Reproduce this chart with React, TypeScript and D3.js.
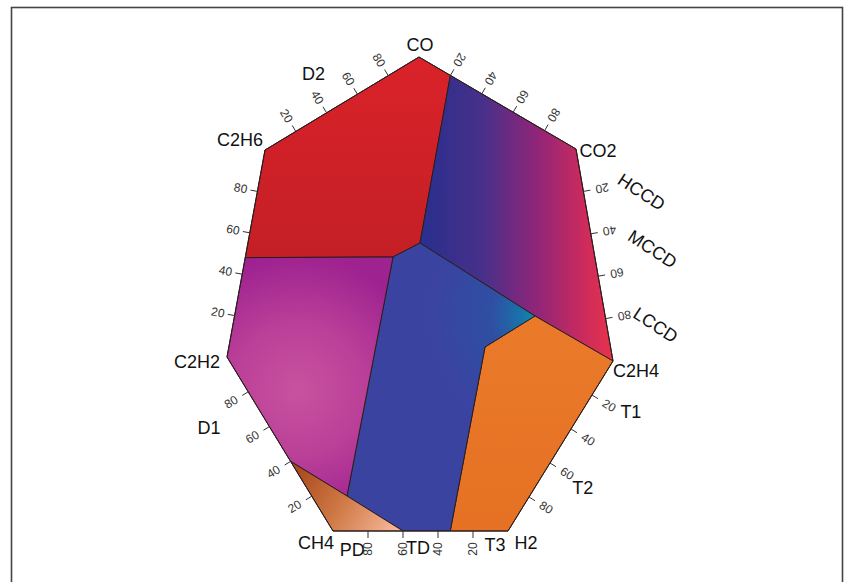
import React from "react";
import * as d3 from "d3";

// ---- data ----
const vertexNames = ["CO", "CO2", "C2H4", "H2", "CH4", "C2H2", "C2H6"];
const vertexX = [-1, 156, 193, 88, -87, -193, -155];
const vertexY = [243, 151, -61, -231, -231, -57, 150];
const tickValues = [20, 40, 60, 80];

// zone labels placed along an edge (edge i runs vertex i -> vertex i+1)
const zoneNames = ["D2", "HCCD", "MCCD", "LCCD", "T1", "T2", "T3", "TD", "PD", "D1"];
const zoneEdge = [6, 1, 1, 1, 2, 2, 3, 3, 3, 4];
const zonePct = [45, 25, 52, 87, 17, 62, 7.4, 51.4, 89, 75];

// interior junctions (data coords)
const junctionNames = ["A", "B", "C", "D", "E"];
const junctionX = [-27, 0, 115, 65, -73];
const junctionY = [43, 57, -16, -47, -196];

// boundary cut points: edge index, percent along edge
const cutNames = ["P1", "P2", "P3", "P4", "P5"];
const cutEdge = [0, 5, 3, 3, 4];
const cutPct = [20, 48, 33, 60, 40];

// regions as lists of point keys
const regionNames = ["D2", "DT", "T", "TD", "D1", "PD"];
const regionPoints = [
  ["P1", "CO", "C2H6", "P2", "A", "B"],
  ["P1", "CO2", "C2H4", "C", "B"],
  ["C", "C2H4", "H2", "P3", "D"],
  ["B", "C", "D", "P3", "P4", "E", "A"],
  ["P2", "A", "E", "P5", "C2H2"],
  ["P5", "E", "P4", "CH4"],
];

// ---- layout / style ----
const W = 847;
const H = 582;
const FONT = "'Liberation Sans', Arial, sans-serif";
const regionFill: Record<string, string> = {
  D2: "url(#gD2)",
  DT: "url(#gDT)",
  T: "url(#gT)",
  TD: "url(#gTD)",
  D1: "url(#gD1)",
  PD: "url(#gPD)",
};
const vertexLabelOffset: Record<string, [number, number]> = {
  CO: [1, -12],
  CO2: [22, 2],
  C2H4: [23, 10],
  H2: [18, 12],
  CH4: [-17, 12],
  C2H2: [-30, 5],
  C2H6: [-25, -10],
};
const zoneDist: Record<string, number> = {
  D2: 40, HCCD: 57, MCCD: 58, LCCD: 48, T1: 42, T2: 41, T3: 14, TD: 17, PD: 19, D1: 52,
};
const zoneRot: Record<string, number> = { HCCD: 33, MCCD: 33, LCCD: 33 };
const tickFlip = [180, 180, 0, 180, 180, 180, 180];
const tickLabelDist = [18, 19, 20, 18, 20, 17, 18];

export default function App() {
  const x = d3.scaleLinear().domain([-200, 200]).range([220, 620]);
  const y = d3.scaleLinear().domain([-250, 250]).range([550, 50]);

  const verts: [number, number][] = vertexNames.map((_, i) => [x(vertexX[i]), y(vertexY[i])]);
  const n = verts.length;
  const edge = (i: number) => {
    const a = verts[i];
    const b = verts[(i + 1) % n];
    const dx = b[0] - a[0];
    const dy = b[1] - a[1];
    const len = Math.hypot(dx, dy);
    return { a, b, dx, dy, len, nx: dy / len, ny: -dx / len };
  };
  const along = (i: number, pct: number): [number, number] => {
    const e = edge(i);
    return [e.a[0] + (e.dx * pct) / 100, e.a[1] + (e.dy * pct) / 100];
  };

  const pts: Record<string, [number, number]> = {};
  vertexNames.forEach((nm, i) => (pts[nm] = verts[i]));
  junctionNames.forEach((nm, i) => (pts[nm] = [x(junctionX[i]), y(junctionY[i])]));
  cutNames.forEach((nm, i) => (pts[nm] = along(cutEdge[i], cutPct[i])));

  const line = d3.line<[number, number]>().curve(d3.curveLinearClosed);

  const ticks: React.ReactNode[] = [];
  for (let i = 0; i < n; i++) {
    const e = edge(i);
    const ang = (Math.atan2(e.ny, e.nx) * 180) / Math.PI;
    tickValues.forEach((t) => {
      const p = along(i, t);
      const lx = p[0] + e.nx * tickLabelDist[i];
      const ly = p[1] + e.ny * tickLabelDist[i];
      ticks.push(
        <g key={`t${i}-${t}`}>
          <line x1={p[0]} y1={p[1]} x2={p[0] + e.nx * 7} y2={p[1] + e.ny * 7} stroke="#333" strokeWidth={1} />
          <text
            x={lx}
            y={ly}
            transform={`rotate(${ang + tickFlip[i]},${lx},${ly})`}
            textAnchor="middle"
            dominantBaseline="central"
            fontSize={12}
            fill="#333"
            fontFamily={FONT}
          >
            {t}
          </text>
        </g>
      );
    });
  }

  return (
    <svg width={W} height={H} style={{ position: "absolute", left: 0, top: 0, display: "block", background: "#fff" }}>
      <defs>
        <linearGradient id="gD2" gradientUnits="userSpaceOnUse" x1={0} y1={57} x2={0} y2={257}>
          <stop offset="0" stopColor="#da2229" />
          <stop offset="1" stopColor="#c41f26" />
        </linearGradient>
        <linearGradient id="gDT" gradientUnits="userSpaceOnUse" x1={425} y1={0} x2={613} y2={0}>
          <stop offset="0" stopColor="#2b2f8d" />
          <stop offset="0.3" stopColor="#46308a" />
          <stop offset="0.6" stopColor="#912578" />
          <stop offset="0.85" stopColor="#cd2b5c" />
          <stop offset="1" stopColor="#e8334a" />
        </linearGradient>
        <radialGradient id="gTD" gradientUnits="userSpaceOnUse" cx={537} cy={316} r={110}>
          <stop offset="0" stopColor="#0a8cad" />
          <stop offset="0.15" stopColor="#1a72aa" />
          <stop offset="0.42" stopColor="#2f4fa3" />
          <stop offset="1" stopColor="#3b43a0" />
        </radialGradient>
        <linearGradient id="gT" gradientUnits="userSpaceOnUse" x1={0} y1={316} x2={0} y2={531}>
          <stop offset="0" stopColor="#ea7a2a" />
          <stop offset="1" stopColor="#e67124" />
        </linearGradient>
        <radialGradient id="gD1" gradientUnits="userSpaceOnUse" cx={298} cy={390} r={135}>
          <stop offset="0" stopColor="#c9529f" />
          <stop offset="0.5" stopColor="#ba3f98" />
          <stop offset="1" stopColor="#9e2290" />
        </radialGradient>
        <linearGradient id="gPD" gradientUnits="userSpaceOnUse" x1={295} y1={470} x2={395} y2={532}>
          <stop offset="0" stopColor="#a9491b" />
          <stop offset="0.5" stopColor="#d07a48" />
          <stop offset="1" stopColor="#f6b899" />
        </linearGradient>
      </defs>

      <rect x={11.5} y={7.5} width={831} height={620} fill="none" stroke="#444" strokeWidth={1.6} />

      {regionNames.map((r, i) => (
        <path
          key={r}
          d={line(regionPoints[i].map((k) => pts[k])) || ""}
          fill={regionFill[r]}
          stroke="#2b1d1d"
          strokeWidth={1}
          strokeLinejoin="round"
        />
      ))}
      <path d={line(verts) || ""} fill="none" stroke="#2b1d1d" strokeWidth={1} />

      {ticks}

      {vertexNames.map((nm, i) => {
        const o = vertexLabelOffset[nm];
        return (
          <text
            key={nm}
            x={verts[i][0] + o[0]}
            y={verts[i][1] + o[1]}
            textAnchor="middle"
            dominantBaseline="central"
            fontSize={18}
            fill="#111"
            fontFamily={FONT}
          >
            {nm}
          </text>
        );
      })}

      {zoneNames.map((nm, i) => {
        const e = edge(zoneEdge[i]);
        const p = along(zoneEdge[i], zonePct[i]);
        const lx = p[0] + e.nx * zoneDist[nm];
        const ly = p[1] + e.ny * zoneDist[nm];
        const rot = zoneRot[nm] || 0;
        return (
          <text
            key={nm}
            x={lx}
            y={ly}
            transform={rot ? `rotate(${rot},${lx},${ly})` : undefined}
            textAnchor="middle"
            dominantBaseline="central"
            fontSize={18}
            fill="#111"
            fontFamily={FONT}
          >
            {nm}
          </text>
        );
      })}
    </svg>
  );
}
